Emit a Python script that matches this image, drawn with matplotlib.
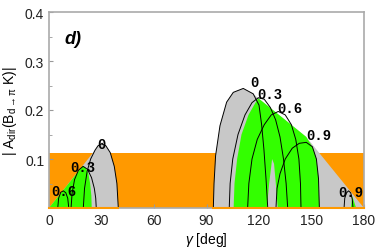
import matplotlib
matplotlib.use("Agg")
import matplotlib.pyplot as plt

plt.rcParams["font.family"] = ["Liberation Sans", "DejaVu Sans"]
plt.rcParams["mathtext.fontset"] = "custom"
plt.rcParams["mathtext.rm"] = "Liberation Sans"
plt.rcParams["mathtext.it"] = "Liberation Sans:italic"

ORANGE = "#ff9900"
GRAY = "#c8c8c8"
GREEN = "#33ff00"

# experimental band
band_x = [0, 180]
band_top = 0.112

# left lobe (gamma in deg, |A_dir|)
gray_l_x = [0, 26.3, 28.0, 30.0, 32.5, 35.0, 37.3, 38.8, 39.6]
gray_l_y = [0, 0.118, 0.127, 0.131, 0.127, 0.113, 0.085, 0.05, 0]
green_l_x = [0, 19.3, 21.0, 22.5, 23.5, 24.2, 24.4]
green_l_y = [0, 0.086, 0.082, 0.07, 0.05, 0.025, 0]

arc_l0_x = [19.6, 20.3, 21.8, 23.8, 26.3, 28.0, 30.0, 32.5, 35.0, 37.3, 38.8, 39.6]
arc_l0_y = [0, 0.04, 0.075, 0.1, 0.118, 0.127, 0.131, 0.127, 0.113, 0.085, 0.05, 0]
arc_l3_x = [12.6, 13.2, 14.6, 16.8, 19.5, 22.0, 24.3, 25.9, 26.7, 27.0]
arc_l3_y = [0, 0.03, 0.058, 0.077, 0.085, 0.079, 0.062, 0.04, 0.02, 0]
arc_l6_x = [5.0, 5.5, 6.7, 8.2, 9.6, 10.7, 11.3]
arc_l6_y = [0, 0.02, 0.032, 0.035, 0.031, 0.02, 0]

# right lobe
gray_r_x = [93.9, 94.3, 95.2, 97.7, 101.5, 105.3, 111.0, 116.7, 119.6, 141.5, 147.0, 180.0]
gray_r_y = [0, 0.05, 0.107, 0.168, 0.216, 0.236, 0.244, 0.233, 0.224, 0.161, 0.145, 0]
green_r_x = [105.5, 106.0, 107.5, 110.0, 114.0, 118.0, 119.6, 141.5, 147.0, 150.5, 152.8, 154.0, 154.5]
green_r_y = [0, 0.05, 0.1, 0.15, 0.19, 0.215, 0.224, 0.161, 0.145, 0.125, 0.1, 0.06, 0]
sliver_x = [124.5, 125.8, 127.5, 128.6, 129.6, 130.7]
sliver_y = [0, 0.05, 0.1, 0.09, 0.05, 0]
green_s_x = [172.5, 173.3, 175.5]
green_s_y = [0, 0.024, 0]

arc_r0_x = [93.9, 94.3, 95.2, 97.7, 101.5, 105.3, 111.0, 116.7, 120.0, 121.5, 122.8, 124.0, 125.0]
arc_r0_y = [0, 0.05, 0.107, 0.168, 0.216, 0.236, 0.244, 0.233, 0.21, 0.17, 0.12, 0.06, 0]
arc_r3_x = [103, 103.5, 105, 108, 112, 116, 119.6, 123, 126.5, 129.5, 132, 134, 135.5, 136.4]
arc_r3_y = [0, 0.05, 0.1, 0.15, 0.19, 0.215, 0.225, 0.222, 0.205, 0.18, 0.145, 0.1, 0.05, 0]
arc_r6_x = [113.5, 114.2, 116, 119, 123, 127, 131, 135, 138.5, 141, 142.8, 143.7, 144]
arc_r6_y = [0, 0.05, 0.1, 0.14, 0.17, 0.19, 0.197, 0.19, 0.17, 0.14, 0.1, 0.05, 0]
arc_r9_x = [129.7, 130.3, 132, 135, 139, 143, 147, 150.5, 152.8, 154, 154.5]
arc_r9_y = [0, 0.04, 0.07, 0.1, 0.122, 0.132, 0.134, 0.125, 0.1, 0.06, 0]
arc_s9_x = [168.6, 169.0, 170.0, 171.2, 172.4, 173.3, 173.7]
arc_s9_y = [0, 0.02, 0.031, 0.035, 0.031, 0.018, 0]

labels = ["0", "0.3", "0.6", "0", "0.3", "0.6", "0.9", "0.9"]
label_x = [30.1, 19.3, 8.4, 117.3, 126.2, 137.8, 154.0, 172.6]
label_y = [0.131, 0.084, 0.035, 0.257, 0.233, 0.205, 0.148, 0.033]

fig = plt.figure(figsize=(3.76, 2.51), dpi=100)
ax = fig.add_axes([49 / 376, 1 - 209 / 251, 315 / 376, 196 / 251])

ax.fill_between(band_x, 0, band_top, color=ORANGE, lw=0, zorder=1)
for xs, ys in [(gray_l_x, gray_l_y), (gray_r_x, gray_r_y)]:
    ax.fill(xs, ys, color=GRAY, lw=0, zorder=2)
for xs, ys in [(green_l_x, green_l_y), (green_r_x, green_r_y), (green_s_x, green_s_y)]:
    ax.fill(xs, ys, color=GREEN, lw=0, zorder=3)
ax.fill(sliver_x, sliver_y, color=GRAY, lw=0, zorder=3)

for xs, ys in [(arc_l0_x, arc_l0_y), (arc_l3_x, arc_l3_y), (arc_l6_x, arc_l6_y),
               (arc_r0_x, arc_r0_y), (arc_r3_x, arc_r3_y), (arc_r6_x, arc_r6_y),
               (arc_r9_x, arc_r9_y), (arc_s9_x, arc_s9_y)]:
    ax.plot(xs, ys, color="black", lw=0.7, zorder=4)

ax.plot([0, 39.6], [0, 0], color=ORANGE, lw=1.5, zorder=5, clip_on=False)
ax.plot([93.9, 180], [0, 0], color=ORANGE, lw=1.5, zorder=5, clip_on=False)

for t, x, y in zip(labels, label_x, label_y):
    ax.text(x, y, t, family="Liberation Mono", weight="bold", fontsize=10,
            ha="center", va="center", zorder=6)

ax.text(13.7, 0.345, "d)", fontsize=13, weight="heavy", style="italic",
        ha="center", va="center")

ax.set_xlim(0, 180)
ax.set_ylim(0, 0.4)
ax.set_xticks(range(0, 181, 30))
ax.set_yticks([0.1, 0.2, 0.3, 0.4])
ax.set_yticks([0.05, 0.15, 0.25, 0.35], minor=True)
ax.tick_params(direction="in", color="#999999", labelsize=10, labelcolor="#222222",
               length=3, width=0.8)
ax.tick_params(which="minor", direction="in", color="#999999", length=2, width=0.6)
for s in ax.spines.values():
    s.set_color("#aaaaaa")
    s.set_linewidth(1.2)

ax.set_xlabel(r"$\gamma$ [deg]", fontsize=10, labelpad=2)
ax.set_ylabel(r"| A$_{\rm dir}$(B$_{\rm d\rightarrow\pi}$ K)|", fontsize=10, labelpad=4)

fig.savefig("out.png", dpi=100)
